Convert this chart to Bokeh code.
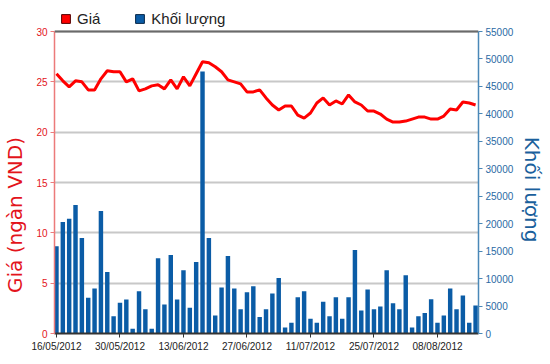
from bokeh.plotting import figure
from bokeh.models import (Range1d, LinearAxis, FixedTicker, Span, Legend, LegendItem,
                          ColumnDataSource, NumeralTickFormatter)
from bokeh.embed import file_html
from bokeh.resources import INLINE

# ---- data ----
tick_labels = ["16/05/2012", "30/05/2012", "13/06/2012", "27/06/2012",
               "11/07/2012", "25/07/2012", "08/08/2012"]
tick_index = [0, 10, 20, 30, 40, 50, 60]

price = [25.8, 25.1, 24.5, 25.1, 25.0, 24.2, 24.2, 25.3, 26.1, 26.0, 26.0, 25.0, 25.3,
         24.1, 24.3, 24.6, 24.7, 24.3, 25.2, 24.3, 25.5, 24.6, 25.8, 27.0, 26.9, 26.5,
         26.0, 25.2, 25.0, 24.8, 24.0, 24.0, 24.2, 23.4, 22.7, 22.2, 22.6, 22.6, 21.7,
         21.4, 21.9, 22.9, 23.4, 22.7, 23.1, 22.8, 23.7, 23.0, 22.7, 22.1, 22.1, 21.8,
         21.3, 21.0, 21.0, 21.1, 21.3, 21.5, 21.5, 21.3, 21.3, 21.6, 22.3, 22.2, 23.0,
         22.9, 22.7]

volume = [15900, 20300, 20900, 23400, 17400, 6500, 8200, 22300, 11200, 3150, 5600, 6200,
          850, 7700, 4400, 850, 13700,
          5300, 14300, 6200, 11500, 4700, 13000, 47700, 17400, 3300, 8400, 14100, 8200,
          4400, 7500, 8600, 3000, 4400,
          7300, 10100, 1100, 1950, 6600, 7700, 2700, 1950, 5800, 3150, 6600, 2700, 6600,
          15200, 4200, 8000,
          4400, 4900, 11500, 5500, 4400, 10600, 1100, 3150, 3750, 6250, 1950, 3300, 8200,
          4400, 6900, 1950, 5100]

price_max = 30
volume_max = 55000

idx = list(range(len(price)))
src = ColumnDataSource(dict(x=idx, price=price, volume=volume))

RED = "#ff0000"
BLUE = "#0b5ca6"
FONT = "Liberation Sans"
NB = "\u00a0"

# frame extends 24px above the 30-line so the legend can sit inside it
PX_PER_UNIT = 302 / price_max
HEADROOM = 24
y_top = price_max + HEADROOM / PX_PER_UNIT
v_top = volume_max * (302 + HEADROOM) / 302

p = figure(frame_width=424, frame_height=326, output_backend="svg", toolbar_location=None,
           x_range=Range1d(-0.31, 66.46), y_range=Range1d(0, y_top),
           min_border_left=48, min_border_right=62, min_border_top=7, min_border_bottom=20)
p.outline_line_color = None
p.background_fill_color = "white"
p.border_fill_color = "white"
p.extra_y_ranges = {"vol": Range1d(0, v_top)}

# grid
p.xgrid.grid_line_color = None
p.ygrid.grid_line_color = "#c8c8c8"
p.ygrid.grid_line_width = 2
p.yaxis.ticker = FixedTicker(ticks=[0, 5, 10, 15, 20, 25, 30])

# bars and line
bars = p.vbar(x="x", top="volume", width=0.7, source=src, y_range_name="vol",
              fill_color=BLUE, line_color=None)
p.line(x="x", y="price", source=src, line_color=RED, line_width=3)

top_line = Span(location=price_max, dimension="width", line_color="#6a6a6a", line_width=2)
p.add_layout(top_line)

# left axis
ly = p.yaxis[0]
ly.bounds = (0, price_max)
ly.axis_label = "Giá (ngàn VND)" + NB * 14
ly.axis_label_text_font = "DejaVu Sans"
ly.axis_label_text_font_size = "20px"
ly.axis_label_text_font_style = "normal"
ly.axis_label_text_color = "#e3141b"
ly.axis_label_standoff = 6
ly.axis_line_color = "#ec7a7a"
ly.axis_line_width = 1.5
ly.major_tick_line_color = "#ec7a7a"
ly.major_tick_out = 4
ly.major_tick_in = 0
ly.minor_tick_line_color = None
ly.major_label_text_color = "#e3141b"
ly.major_label_text_font = FONT
ly.major_label_text_font_size = "10px"
ly.major_label_standoff = 3

# right axis
ry = LinearAxis(y_range_name="vol", ticker=FixedTicker(ticks=list(range(0, volume_max + 1, 5000))),
                formatter=NumeralTickFormatter(format="0"), bounds=(0, volume_max))
ry.axis_label = NB * 6 + "Khối lượng"
ry.axis_label_text_font = "DejaVu Sans"
ry.axis_label_text_font_size = "20px"
ry.axis_label_text_font_style = "normal"
ry.axis_label_text_color = "#1a5f9c"
ry.axis_label_standoff = 4
ry.axis_line_color = "#4a88b8"
ry.axis_line_width = 1.5
ry.major_tick_line_color = "#4a88b8"
ry.major_tick_out = 4
ry.major_tick_in = 0
ry.minor_tick_line_color = None
ry.major_label_text_color = "#2a6aa4"
ry.major_label_text_font = FONT
ry.major_label_text_font_size = "10px"
ry.major_label_standoff = 3
p.add_layout(ry, "right")

# bottom axis
bx = p.xaxis[0]
bx.ticker = FixedTicker(ticks=tick_index)
bx.major_label_overrides = {i: s for i, s in zip(tick_index, tick_labels)}
bx.axis_line_color = "#333333"
bx.axis_line_width = 2
bx.major_tick_line_color = "#333333"
bx.major_tick_out = 4
bx.major_tick_in = 0
bx.minor_tick_line_color = None
bx.major_label_text_color = "#222222"
bx.major_label_text_font = FONT
bx.major_label_text_font_size = "10px"
bx.major_label_standoff = 3

# legend (dummy swatches) inside the frame headroom
leg_src = ColumnDataSource(dict(x=[float("nan")], top=[float("nan")]))
leg_price = p.vbar(x="x", top="top", width=0.7, source=leg_src,
                   fill_color=RED, line_color="#550000")
leg_vol = p.vbar(x="x", top="top", width=0.7, source=leg_src,
                 fill_color=BLUE, line_color="#082848")
legend = Legend(items=[LegendItem(label="Giá", renderers=[leg_price]),
                       LegendItem(label="Khối lượng", renderers=[leg_vol])],
                orientation="horizontal", location=(6, 306))
legend.glyph_width = 11
legend.glyph_height = 11
legend.label_standoff = 6
legend.spacing = 34
legend.padding = 0
legend.margin = 0
legend.label_height = 17
legend.label_text_font = FONT
legend.label_text_font_size = "15px"
legend.label_text_color = "#222222"
legend.border_line_color = None
legend.background_fill_alpha = 0
p.add_layout(legend)

open("out.html", "w").write(file_html(p, INLINE))
